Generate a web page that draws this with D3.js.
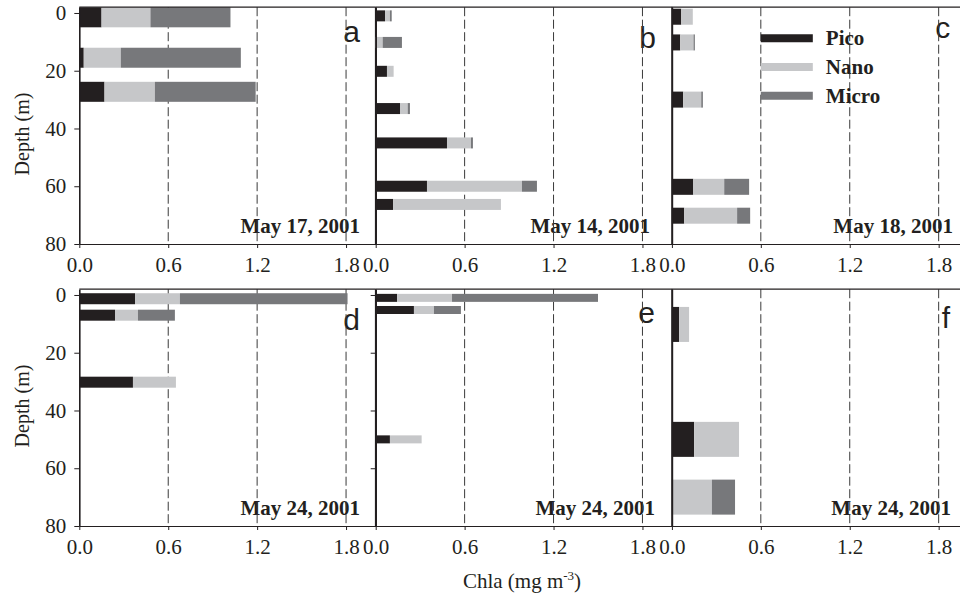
<!DOCTYPE html>
<html>
<head>
<meta charset="utf-8">
<script src="https://cdn.jsdelivr.net/npm/d3@7"></script>
<style>
  html, body { margin: 0; padding: 0; background: #fff; }
  svg { display: block; }
  text { fill: #231f20; }
</style>
</head>
<body>
<svg id="chart" width="960" height="595"></svg>
<script>
// Size-fractionated chlorophyll a profiles, six stations
const panelIds = ["a", "b", "c", "d", "e", "f"];
const sampleDates = ["May 17, 2001", "May 14, 2001", "May 18, 2001",
                     "May 24, 2001", "May 24, 2001", "May 24, 2001"];
const sizeClasses = ["Pico", "Nano", "Micro"];

// Sample depth (m) for every bar of each panel
const depths = [
  [1.5, 15.5, 27.3],
  [1.0, 10.2, 20.2, 33.1, 45.0, 60.0, 66.3],
  [1.3, 10.2, 30.0, 60.2, 70.2],
  [1.3, 7.0, 30.2],
  [1.0, 5.2, 50.0],
  [10.2, 50.0, 70.0]
];
// Chla of each size class (mg m-3)
const pico = [
  [0.15, 0.03, 0.17],
  [0.063, 0.0, 0.076, 0.164, 0.481, 0.346, 0.117],
  [0.063, 0.056, 0.076, 0.144, 0.083],
  [0.376, 0.241, 0.362],
  [0.144, 0.258, 0.096],
  [0.049, 0.15, 0.007]
];
const nano = [
  [0.33, 0.25, 0.34],
  [0.033, 0.047, 0.045, 0.052, 0.162, 0.641, 0.728],
  [0.078, 0.09, 0.122, 0.209, 0.357],
  [0.303, 0.155, 0.29],
  [0.371, 0.135, 0.214],
  [0.067, 0.303, 0.263]
];
const micro = [
  [0.54, 0.81, 0.68],
  [0.012, 0.13, 0.0, 0.015, 0.013, 0.101, 0.0],
  [0.0, 0.009, 0.011, 0.168, 0.088],
  [1.131, 0.249, 0.0],
  [0.985, 0.182, 0.0],
  [0.0, 0.0, 0.156]
];

const xTicks = [0, 0.6, 1.2, 1.8];
const yTicks = [0, 20, 40, 60, 80];
const xDomain = [0, 2];
const yDomain = [-2, 80];

// ---- layout and style ----
const colors = { Pico: "#231f20", Nano: "#c6c7c9", Micro: "#77787b" };
const ink = "#231f20";
const panelW = 296.4, panelH = 236.8;
const colX = [79.3, 375.7, 671.9];
const rowY = [7.2, 289.2];
const barPx = [20, 11, 16, 11, 8, 35];           // bar thickness per panel
const letterPos = [[280.7, 34.8], [280.3, 41], [278.3, 31],
                   [280.7, 40.8], [279.3, 33.8], [278.3, 38.8]];
const dateRight = [280.7, 274.3, 281, 280.7, 279.3, 279];
const yLabelPanels = ["a", "d"];
const yTickOnlyPanels = ["e"];

const serif = "'Liberation Serif', 'Times New Roman', serif";
const sans = "'Liberation Sans', Arial, sans-serif";
const labelSize = "21px";

const svg = d3.select("#chart");

const x = d3.scaleLinear().domain(xDomain).range([0, panelW]);
const y = d3.scaleLinear().domain(yDomain).range([0, panelH]);

panelIds.forEach((id, p) => {
  const g = svg.append("g")
    .attr("transform", `translate(${colX[p % 3]},${rowY[Math.floor(p / 3)]})`);

  // date label
  g.append("text")
    .attr("x", dateRight[p])
    .attr("y", panelH - 11)
    .attr("text-anchor", "end")
    .style("font-family", serif)
    .style("font-weight", "bold")
    .style("font-size", labelSize)
    .text(sampleDates[p]);

  // panel letter
  g.append("text")
    .attr("x", letterPos[p][0])
    .attr("y", letterPos[p][1])
    .attr("text-anchor", "end")
    .style("font-family", sans)
    .style("font-size", "30px")
    .text(id);

  // legend backdrop (panel c)
  if (id === "c") {
    g.append("rect")
      .attr("x", x(0.6) + 2).attr("y", 21)
      .attr("width", 121).attr("height", 80)
      .attr("fill", "#fff");
  }

  // dashed reference lines
  g.selectAll("line.grid")
    .data(xTicks.filter(t => t > 0))
    .join("line")
    .attr("class", "grid")
    .attr("x1", d => x(d)).attr("x2", d => x(d))
    .attr("y1", 0).attr("y2", panelH)
    .attr("stroke", "#3a3a3a")
    .attr("stroke-width", 1)
    .attr("stroke-dasharray", "9,3.5");

  // stacked bars
  const rows = depths[p].map((d, i) => ({
    depth: d, Pico: pico[p][i], Nano: nano[p][i], Micro: micro[p][i]
  }));
  const series = d3.stack().keys(sizeClasses)(rows);
  series.forEach(s => {
    g.append("g")
      .selectAll("rect")
      .data(s.filter(seg => seg[1] - seg[0] > 0))
      .join("rect")
      .attr("x", seg => x(seg[0]))
      .attr("width", seg => x(seg[1]) - x(seg[0]))
      .attr("y", seg => y(seg.data.depth) - barPx[p] / 2)
      .attr("height", barPx[p])
      .attr("fill", colors[s.key]);
  });

  // frame: top and right edges
  g.append("line")
    .attr("x1", 0).attr("x2", panelW).attr("y1", 0).attr("y2", 0)
    .attr("stroke", ink).attr("stroke-width", 1.2);
  g.append("line")
    .attr("x1", panelW).attr("x2", panelW).attr("y1", 0).attr("y2", panelH)
    .attr("stroke", ink).attr("stroke-width", 1.6);

  // x axis
  const xa = g.append("g")
    .attr("transform", `translate(0,${panelH})`)
    .call(d3.axisBottom(x).tickValues(xTicks).tickFormat(d3.format(".1f"))
      .tickSize(4).tickSizeOuter(0).tickPadding(8.8));
  xa.select(".domain").attr("stroke", ink).attr("stroke-width", 1.2);
  xa.selectAll(".tick line").attr("stroke", ink);
  xa.selectAll("text")
    .style("font-family", serif).style("font-size", labelSize).attr("fill", ink);

  // y axis
  let ya;
  if (yLabelPanels.includes(id) || yTickOnlyPanels.includes(id)) {
    const ax = d3.axisLeft(y).tickValues(yTicks).tickSize(5).tickSizeOuter(0).tickPadding(8);
    if (yTickOnlyPanels.includes(id)) ax.tickFormat("");
    ya = g.append("g").call(ax);
    ya.selectAll("text")
      .style("font-family", serif).style("font-size", labelSize).attr("fill", ink);
    ya.selectAll(".tick line").attr("stroke", ink);
  } else {
    ya = g.append("g").call(d3.axisLeft(y).tickValues([]).tickSizeOuter(0));
  }
  ya.select(".domain").attr("stroke", ink).attr("stroke-width", 1.6);

  // legend (panel c)
  if (id === "c") {
    const lg = g.append("g");
    sizeClasses.forEach((k, i) => {
      const ly = 31.1 + i * 28.7;
      lg.append("line")
        .attr("x1", x(0.6)).attr("x2", x(0.6) + 52)
        .attr("y1", ly).attr("y2", ly)
        .attr("stroke", colors[k]).attr("stroke-width", 8);
      lg.append("text")
        .attr("x", x(0.6) + 65)
        .attr("y", ly + 7)
        .style("font-family", serif)
        .style("font-weight", "bold")
        .style("font-size", labelSize)
        .text(k);
    });
  }
});

// y axis titles
[134, 406].forEach(cy => {
  svg.append("text")
    .attr("transform", `translate(29,${cy}) rotate(-90)`)
    .attr("text-anchor", "middle")
    .style("font-family", serif)
    .style("font-size", "20px")
    .text("Depth (m)");
});

// x axis title
const xt = svg.append("text")
  .attr("x", 522).attr("y", 588)
  .attr("text-anchor", "middle")
  .style("font-family", serif)
  .style("font-size", "21px");
xt.append("tspan").text("Chla (mg m");
xt.append("tspan").attr("dy", -8).style("font-size", "13px").text("-3");
xt.append("tspan").attr("dy", 8).text(")");
</script>
</body>
</html>
